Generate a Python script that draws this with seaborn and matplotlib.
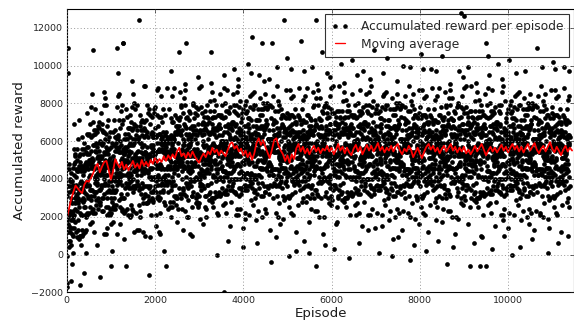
import numpy as np
import pandas as pd
import matplotlib
matplotlib.use("Agg")
import matplotlib.pyplot as plt
from matplotlib.lines import Line2D
import seaborn as sns

# Accumulated reward recorded every 3rd episode. Each entry is a 3-digit code
# equal to reward / 100 + 20; one row string = 10 recorded episodes (30 episodes),
# one block = 10 rows (300 episodes).
EPISODE_STRIDE = 3
CODE_OFFSET = 20
CODE_UNIT = 100
REWARD_CODES = [
    ["003005051038065040019129036042", "056032116040024068041035053027", "041065034059027043056060032048", "038050006042063059025047031054", "034059042015040066038021057043",
     "030053068076041034062089055047", "069044050073056037072048061055", "065048057051032064070043029056", "052076033064049081047065038050", "067091045053028072054004030069"],
    ["058030066042073059025067041054", "064049082055030076058041067033", "050073048066031054062079045057", "049064010053076067032058041065", "045068057021052074040033069056",
     "042066073084059041077095068050", "077051065083068042084056070069", "073057061068045070089054036062", "066082049070054098051075043067", "071105054069037083066090042078"],
    ["128044070053086067032078051065", "075058097061042084060053079046", "062086053074049061077085058060", "057071025063088072044066050079", "063087071048075090069054008072",
     "046062079080054048071095063057", "071055064089067043086050072068", "078050066062043079085057031064", "074099052085060106068081057073", "070103058066031084062099045077"],
    ["067041075053088062034076050069", "073057091068045080069054076042", "066082059070044068071085053067", "041065014059077063036050042068", "048060056022053079045037061054",
     "044069072085050046078091067053", "070053068086061044082059075067", "079054060063046077082129031065", "075098057081062104060083059076", "082116063074049091077105058080"],
    ["061045074059087063036070052068", "078050096062043089065057071044", "074099062132050076132091067073", "050073028066081074042069055077", "069084070043076097062058081075",
     "014068077081052044070093069056", "072056063084069041087055078060", "087061075073058082094066040079", "063087041078055090059074046062", "086112069070044098071105053087"],
    ["060043078056081064032079055067", "089064100073056097072068081055", "065088057071042064070083059066", "062086033074099081057075068080", "057071065033068082054046070144",
     "043067071088055040079094066052", "086062079090074058091065083077", "071055064069047073086050032068", "078090056082063109065087051074", "074109052065030086068091047073"],
    ["072056083064099071047085068070", "077051095063048082064056070049", "073097061009055070089094066072", "056072029060084078041065053077", "061085074049077093066050082078",
     "048060076082053049075097061054", "084069072095070056098061087073", "070053068066041074082059035067", "079094050083066107062088051075", "075108057061032084060093049076"],
    ["066042079050084068031075053067", "081065104079057093076060082058", "078090066082053079085097061074", "054079022065080076048061057073", "060083078046071094062059085077",
     "059074080014066057082108071065", "075058067081062044080053079066", "082066073074059081097065048070", "067081045073058092054076040069", "083117061078045090079104056082"],
    ["074059082065090076048081067073", "080063108076051094072069085057", "069084050073046067072088051065", "065088037071092084050073069086", "062086073044079091067055088070",
     "127071085093068052084106070069", "083067071098075050099064086072", "076052069060044078081055033067", "071095054089067103066080052078", "088110066072043099075107051084"],
    ["132058087061092074040083069076", "072056093064049081067055078040", "077091065083058072084096060079", "063087031078095080059074066082", "056072069030064088051045073067",
     "051075084099067053086100072068", "088060076092073059095067081074", "084069072075050086098061047073", "060083048076051094052079045067", "089114060073046097072108051085"],
    ["063047071058085060039074056062", "086062109070054098071065083057", "071095064089057073086090062078", "068080036072093089055077061084", "064089072045070096068051087073",
     "040063078086051044072099065057", "089064070093076057092068081075", "085068077071052084090063049076", "072096053084069101067085058070", "127111065073048092074106050089"],
    ["078050086062093079045087061074", "084069102075050096078061087053", "070093068086051074082099065077", "059074020063086077042068051075", "065088077041072094060053089076",
     "052076083094069051087105078060", "087061075093078052094066080079", "083067071078055080099064046072", "076092059080064108061085053077", "000115064079047093076100052088"],
    ["079054080063096077042088061075", "085068107071052027070063089056", "072096063084059071087095068070", "067081035073098082054076060089", "063087071048075090069054086072",
     "056072089090064058081105073067", "081065118099077053096060082078", "088060076072053089095067041074", "074099052085060106068081044073", "080113068076041094072109055087"],
    ["077051085063098072044086060079", "083067101078055090079064086052", "076092069080054078081095063077", "061085034024097083056070062088", "068080076042073099039057081074",
     "054079082095060056088101077063", "080063078096071054092069085077", "089121070073056087092068041075", "075098057081062104060083059076", "082116063074049091077105058080"],
    ["135055084069097073046080062078", "088060106072053099075067081054", "074099062085050076088091067073", "060083038076091084052079026087", "069084070043076097062058081075",
     "055078087091062115080103079066", "082066073094079051097065088070", "087061075132058082094066040079", "073097051088065100069084056072", "086112069070044098071105053087"],
    ["070053088066091074042089065077", "089064100073056097072068081055", "075098067081052074080113069076", "062086033074099081057075068080", "067081075016078092064056080079",
     "132077081098065050089104076062", "086062079090074058091065083077", "081065074079057083096060042078", "078090056082029109065087051074", "084119062075040096078101057083"],
    ["072056083064099071047085068070", "087061036073058092074066080059", "073097061088055070089094066072", "066082039070094088051075063087", "144085074049077093066050082078",
     "058070086092063059085107071064", "084069072095070056124061087073", "080063078076051084092019045077", "079094050083066107062088051075", "085118067071042094070103059086"],
    ["076052089060094078041085063077", "081065104079057093076060082058", "078090066082053079085097061074", "064089032075090022058071067083", "060083078046071094062059085077",
     "059074080093066057082108071065", "085068077091072054133063089076", "082066073074059081097065048070", "077091055083068102064086050079", "083117061078027090079104056082"],
    ["074059082065090076048081067073", "080063108076051094072069085057", "079094060083056077082021061075", "065088037071092084050073069086", "062086073044079091067055088070",
     "057071085119068052084106070069", "083067071098075050099064086072", "086062079070054088091065043077", "014144054089067103066080052078", "088110066072043099075107051084"],
    ["075058087061092074040083069076", "082066103074059091077065088050", "077091065083058072127096060079", "063087031078095080059074066082", "066082079040074098061025083077",
     "051075084099067053086100072068", "088060116092073059095067081074", "084069072075050086098061047073", "070093058086061104062089055077", "089114060073046097072108051085"],
    ["073057081068095070049084066072", "086062109070054023071065083057", "071095064089057073086090062078", "068080036072093089055077061084", "064089072045037096068051087073",
     "050073088096061054082109075067", "089064070093076057092068121075", "085068077071052084090063049076", "072096053084069101067085058070", "087111065073048092074106050089"],
    ["078050086062093079045087061074", "084069102075050096078061087053", "070093068086051074082099065077", "069084018073096087052078061085", "065088077041072094060053089076",
     "052076083094069051087105123060", "087061075093078052094066080079", "083067071078055080099064046072", "076092059080064041061085053077", "081115064079047093076100052088"],
    ["079054080063096077042088061026", "085068107071052094070063089056", "072096063084059071087095068070", "067081035073098082117076060089", "063087071048075090069054086072",
     "056072089090064058081105073067", "081065074099077053096060082078", "088060076072033089095067041074", "074099052085060106068081057073", "080113068076041094072109055087"],
    ["077051085063098072044086060079", "083067101078055090079064086052", "076128069080054078081095063077", "061085034079097083056070062088", "068080076042073099065057081074",
     "054079082095060056088021077063", "080063078096071054092069085077", "089064070073056087092068041075", "075098057035062104060083059076", "082116063074049091077105058080"],
    ["071055084069097073046080062078", "088060106072053099124067081054", "074099062085050076088091067073", "060083038076091084052079065087", "069084070043076097062058081075",
     "055078087019062054080103079066", "082066073094079051097028088070", "087061075073058082094066040079", "073097051088065100069084056072", "086112069070044098071105053087"],
    ["070053088066091029042089065077", "089064100073056097072068081055", "075098067081052074080093069076", "062086033074099081057075068080", "067120075043078092064056080079",
     "053077081098065050089104076062", "086062079090074058091065083077", "081065074079057083096060042078", "078090056082063109065087051074", "084119017075040096078101057083"],
    ["072056083064099071047085068070", "087061105073058092074066080059", "073097061088025070089094066072", "066082039070094088051075063087", "061085074049077093066050082078",
     "058070086092063059085107036064", "084069072095070056098061087073", "080063078076051084092069045126", "079094050083066107062088051075", "085118067071042094070103059086"],
    ["076052089060094078041085063077", "081065104022057093076060082058", "078090066082053079085097061074", "064089032075090086058071067083", "060083078046071094062059118077",
     "059074080093066057082108071065", "085068077091072054090063089076", "082066073074059081097065048070", "077091055083068102038086050079", "083117061078045090079104056082"],
    ["074059082065090076027081067073", "080063108076051094072069085057", "079094060083056077082098061075", "065088037071092125050073069086", "062086073044079091067055088070",
     "057071085093068052084106070069", "083067071098075050099064086072", "015062079070054088091065043077", "071095054089067103066080052078", "088110066072043099075107051084"],
    ["075058087061092074040083069076", "082066103074059091077065088024", "077091065083058072084096060079", "063087031078095080059074066082", "066082079040074098061055083077",
     "051075039099067053086100072068", "088060076092073059117067081074", "084069072075050086098061047073", "148093058086061104062089055077", "089114060073046097072108051085"],
    ["146057081068095070049084066072", "086062109070054098071065083057", "071095064089057073086090119078", "068080036072093089055077061084", "064089072045070096068014087073",
     "050073088096061054082109075067", "089064070093076057092068081075", "085068077026052084090063049076", "072096053084069101067085058070", "087111065073048092074106050089"],
    ["078050086062093079045087061074", "084069102075050096078061087053", "070093068014051074082099065077", "069084030073096087052078061085", "029088077041072094060053089076",
     "052076083094069051087105078060", "087061075093078052132014080079", "083067071078055080099064046072", "076092059125064108061085053077", "081115064079047093076100052088"],
    ["079054080063096077042088061075", "085023107071052094070063089056", "072096063084059071087095068070", "067081035073098082054076060089", "063087071048075090069054086072",
     "056072089090064058081121073067", "081065074099077053096060082078", "088060076072053089095067041074", "074099052085060106068081057073", "080113068076041038072109055087"],
    ["077051085063030072044086060079", "083067101078055090079064086052", "076092069080054078081095063077", "061085034079097083056070123088", "068080076042073099065057081074",
     "054079082095060056088101077063", "080063020096071054092069085077", "089064070073056087092068041075", "075098057081062104060083059076", "082116063074049091077105058080"],
    ["071055084069097073046080062078", "088060106072053099075067081054", "074099062085050076088024067073", "060083038076091084052079065087", "069084070043076097062058081075",
     "055078087091062054080103079066", "082066073094117051097065088070", "087061075073058082094066040079", "073097051088065100069084056072", "086036069070044098071105053087"],
    ["070053088066091074042089065077", "089064100073056097028068081055", "075098067081052074080093069076", "062086033074099081057075068080", "067081075043078092064056080079",
     "053077081098065129089104076062", "086062079090074058091065083077", "081065074079057083096041042078", "078090056082063109065087051074", "084119062075040096078101057083"],
    ["072056083064099071047085068070", "087061105073058092074066080059", "073097061088055070089094066072", "066021039070094088051075063087", "061085074049077034066050082078",
     "058070086092063059085107071064", "084069072095070056098061087122", "080063078076051084092069045077", "079094050083066107062088051075", "085118067071042094070103059086"],
    ["076052089060094078041085026077", "081065104079057093076060082058", "078090066082053079085097061074", "064089032075090086058071067083", "060083078046071094062059085077",
     "059074119093066057082108071065", "085068077091072054090063089076", "082066073074059081097065048070", "077091055083068102064030050079", "083117061078045090079104056082"],
]

# Moving average of the accumulated reward, one value every 50 episodes.
MA_STRIDE = 50
MOVING_AVERAGE = [
    1900, 2400, 2900, 3300, 3650, 3500, 3350, 3250, 3700, 3900,
    3850, 4050, 4300, 4650, 4800, 4350, 4650, 4900, 4950, 4500,
    3950, 4400, 5050, 4800, 4600, 4900, 4500, 4750, 4450, 4700,
    4950, 4600, 4800, 4550, 5000, 4700, 4900, 4650, 5000, 4800,
    5100, 4850, 5050, 4900, 5200, 4950, 5250, 5050, 5300, 5100,
    5450, 5650, 5200, 5350, 5100, 5400, 5150, 5450, 5200, 5000,
    4850, 5150, 5350, 5150, 5450, 5300, 5650, 5400, 5550, 5250,
    5500, 5350, 5200, 5550, 5850, 5950, 5600, 5750, 5450, 5600,
    5250, 5500, 5150, 5400, 5000, 5350, 5900, 6150, 5800, 6050,
    5700, 5400, 5100, 5550, 6050, 6150, 5750, 5500, 5300, 4950,
    5250, 4850, 5300, 5050, 5600, 5850, 5450, 5700, 5350, 5600,
    5300, 5550, 5750, 5450, 5650, 5350, 5600, 5500, 5750, 5450,
    5650, 5300, 5550, 5850, 5500, 5700, 5350, 5650, 5400, 5250,
    5600, 5800, 5450, 5700, 5300, 5550, 5800, 5500, 5750, 5450,
    5650, 5900, 5500, 5700, 5400, 5650, 5500, 5750, 5450, 5700,
    5850, 5500, 5300, 5600, 5450, 5750, 5550, 5150, 5400, 5650,
    5350, 5100, 5450, 5700, 5850, 5550, 5750, 5450, 5650, 5350,
    5600, 5750, 5450, 5650, 5850, 5500, 5700, 5400, 5650, 5450,
    5700, 5350, 5550, 5300, 5500, 5750, 5450, 5650, 5850, 5550,
    5250, 5500, 5700, 5450, 5650, 5400, 5600, 5800, 5500, 5700,
    5400, 5650, 5850, 5550, 5750, 5450, 5700, 5400, 5650, 5850,
    5500, 5700, 5900, 5550, 5350, 5600, 5750, 5450, 5700, 5950,
    5600, 5400, 5700, 5500, 5250, 5550, 5750, 5450, 5650, 5500,
]

X_TICKS = [0, 2000, 4000, 6000, 8000, 10000]
Y_TICKS = [-2000, 0, 2000, 4000, 6000, 8000, 10000, 12000]
LEGEND_LABELS = ["Accumulated reward per episode", "Moving average"]

codes = [int(row[i:i + 3]) for block in REWARD_CODES for row in block
         for i in range(0, len(row) - 2, 3)]
rewards = pd.DataFrame({
    "Episode": np.arange(len(codes)) * EPISODE_STRIDE,
    "Accumulated reward": (np.array(codes) - CODE_OFFSET) * CODE_UNIT,
})
moving = pd.DataFrame({
    "Episode": np.arange(len(MOVING_AVERAGE)) * MA_STRIDE,
    "Moving average": MOVING_AVERAGE,
})

sns.set_style("white")
plt.rcParams["font.family"] = ["DejaVu Sans"]

W, H = 574, 327
fig = plt.figure(figsize=(W / 80, H / 80), dpi=80)
ax = fig.add_axes([66.7 / W, 1 - 292.3 / H, 507.6 / W, 283.5 / H])

sns.scatterplot(data=rewards, x="Episode", y="Accumulated reward", color="black",
                s=18, linewidth=0, legend=False, ax=ax, zorder=1)
sns.lineplot(data=moving, x="Episode", y="Moving average", color="red",
             linewidth=1.6, estimator=None, ax=ax, zorder=2)

ax.set_xlim(0, 11500)
ax.set_ylim(-2000, 13000)
ax.set_xticks(X_TICKS)
ax.set_yticks(Y_TICKS)
ax.set_axisbelow(False)
ax.grid(True, color="0.6", linestyle=(0, (1.2, 2.5)), linewidth=0.8)
ax.tick_params(direction="in", top=True, right=True, length=4, width=0.6,
               labelsize=8.5, pad=3, labelcolor="0.15")
for spine in ax.spines.values():
    spine.set_color("black")
    spine.set_linewidth(1.0)

ax.set_xlabel("Episode", fontsize=12, labelpad=2, color="0.1")
ax.set_ylabel("Accumulated reward", fontsize=12, labelpad=5, color="0.1")

handles = [
    Line2D([], [], linestyle="none", marker=".", color="black", markersize=6),
    Line2D([], [], color="red", linewidth=1.2),
]
leg = ax.legend(handles, LEGEND_LABELS, loc="upper right", numpoints=2, fontsize=11,
                frameon=True, fancybox=False, borderaxespad=0.4, handlelength=1.4,
                handletextpad=1.0, borderpad=0.5, labelspacing=0.4)
frame = leg.get_frame()
frame.set_facecolor("none")
frame.set_edgecolor("black")
frame.set_linewidth(1.0)

fig.savefig("out.png", dpi=80)
